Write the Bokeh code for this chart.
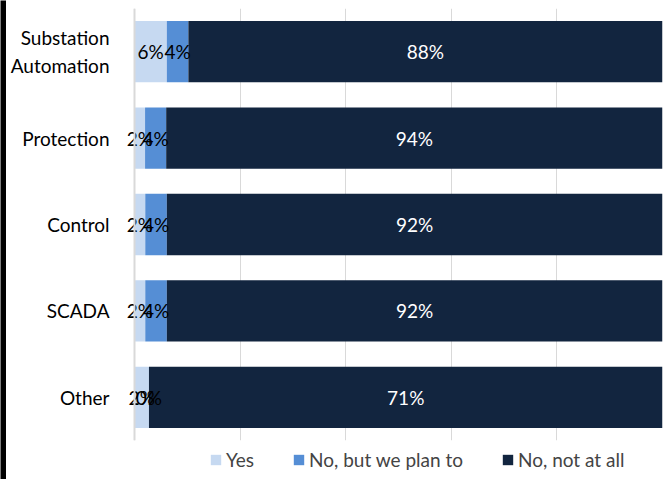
from bokeh.plotting import figure
from bokeh.models import (ColumnDataSource, FactorRange, Range1d, FixedTicker,
                          Legend, LegendItem, Span)
from bokeh.layouts import row, column
from bokeh.core.properties import value
from bokeh.embed import file_html
from bokeh.resources import INLINE

categories = ["Substation\nAutomation", "Protection", "Control", "SCADA", "Other"]
yes = [6, 2, 2, 2, 2]
plan = [4, 4, 4, 4, 0]
not_at_all = [88, 94, 92, 92, 71]
series_names = ["Yes", "No, but we plan to", "No, not at all"]
colors = ["#C6D9F1", "#558ED5", "#12253F"]
label_colors = ["#000000", "#000000", "#FFFFFF"]
x_ticks = [0, 0.2, 0.4, 0.6, 0.8, 1.0]

FONT = "Lato"
FS = "19px"

totals = [a + b + c for a, b, c in zip(yes, plan, not_at_all)]
series = [yes, plan, not_at_all]

x_pad = 12 / 528
p = figure(width=660, height=448, output_backend="svg", toolbar_location=None,
           y_range=FactorRange(factors=categories[::-1]),
           x_range=Range1d(-x_pad, 1),
           min_border_left=116, min_border_right=4, min_border_top=8,
           min_border_bottom=8)
p.outline_line_color = None

sources = []
left = [0.0] * len(categories)
for name, vals, col in zip(series_names, series, colors):
    frac = [v / t for v, t in zip(vals, totals)]
    right = [l + f for l, f in zip(left, frac)]
    mid = [(l + r) / 2 for l, r in zip(left, right)]
    src = ColumnDataSource(dict(cat=categories, left=left, right=right, mid=mid,
                                lab=[f"{v}%" for v in vals]))
    p.hbar(y="cat", left="left", right="right", height=0.71, source=src,
           fill_color=col, line_color=None)
    sources.append(src)
    left = right

# data labels on top of all bars
for src, lcol in zip(sources, label_colors):
    p.text(x="mid", y="cat", text="lab", source=src, text_align="center",
           text_baseline="middle", text_color=lcol, text_font=value(FONT),
           text_font_size=FS)

p.xaxis.visible = False
p.xaxis.ticker = FixedTicker(ticks=x_ticks)
p.xgrid.ticker = FixedTicker(ticks=x_ticks)
p.xgrid.grid_line_color = "#D9D9D9"
p.ygrid.visible = False
p.add_layout(Span(location=0, dimension="height", line_color="#D9D9D9",
                  line_width=2))

p.yaxis.axis_line_color = None
p.yaxis.major_tick_line_color = None
p.yaxis.minor_tick_line_color = None
p.yaxis.major_label_text_font = FONT
p.yaxis.major_label_text_font_size = FS
p.yaxis.major_label_text_color = "#000000"
p.yaxis.major_label_standoff = 7

# legend strip (frame aligned with the main plot's frame by the column)
p2 = figure(width=660, height=31, output_backend="svg", toolbar_location=None,
            x_range=Range1d(0, 1), y_range=Range1d(0, 1),
            x_axis_location=None, y_axis_location=None,
            min_border_left=116, min_border_right=4, min_border_top=0,
            min_border_bottom=0)
p2.outline_line_color = None
p2.xgrid.visible = False
p2.ygrid.visible = False
items = []
for name, col in zip(series_names, colors):
    rr = p2.rect(x=[0], y=[0], width=[0], height=[0], fill_color=col,
                 line_color=None, visible=False)
    items.append(LegendItem(label=name, renderers=[rr]))
legend = Legend(items=items, orientation="horizontal", location=(87, 8),
                label_text_font=FONT, label_text_font_size=FS,
                glyph_width=13, glyph_height=13, label_standoff=4, spacing=38,
                label_height=20, padding=0, margin=0, border_line_color=None,
                background_fill_alpha=0)
p2.add_layout(legend, "center")

strip = figure(width=6, height=479, output_backend="svg", toolbar_location=None,
               x_axis_location=None, y_axis_location=None,
               min_border_left=0, min_border_right=0, min_border_top=0,
               min_border_bottom=0, background_fill_color="black",
               border_fill_color="black")
strip.outline_line_color = None
strip.xgrid.visible = False
strip.ygrid.visible = False

layout = row(strip, column(p, p2, spacing=0), spacing=0)

open("out.html", "w").write(file_html(layout, INLINE))
